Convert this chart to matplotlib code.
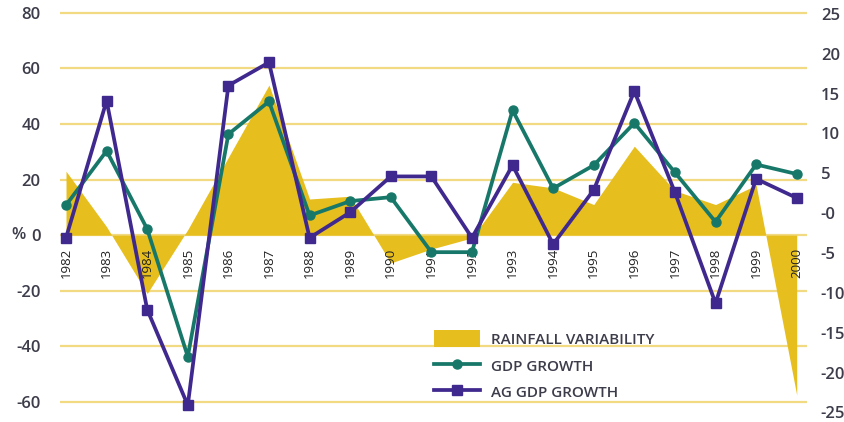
import numpy as np
import matplotlib.pyplot as plt

years = list(range(1982, 2001))
rainfall = [23, 3, -21, 2, 28, 54, 13, 14, -10, -5, -1, 19, 17, 11, 32, 16, 11, 18, -57.5]
gdp_growth = [1.0, 7.8, -2.0, -18.0, 9.9, 14.0, -0.3, 1.5, 2.0, -4.9, -4.9, 12.9, 3.1, 6.0,
              11.3, 5.1, -1.1, 6.1, 4.9]
ag_gdp_growth = [-3.1, 14.1, -12.1, -24.1, 16.0, 18.9, -3.1, 0.1, 4.6, 4.6, -3.1, 6.0, -3.9,
                 2.9, 15.3, 2.6, -11.3, 4.3, 1.9]
left_ticks = [-60, -40, -20, 0, 20, 40, 60, 80]
right_ticks = [-25, -20, -15, -10, -5, 0, 5, 10, 15, 20, 25]
right_labels = ['-25', '-20', '-15', '-10', '-5', '-0', '5', '10', '15', '20', '25']

GOLD = '#E6BE1E'
GRID = '#F2DA82'
TEAL = '#17786A'
PURPLE = '#40298E'
TEXT = '#3C3C4A'

plt.rcParams['font.family'] = ['Open Sans', 'DejaVu Sans']

fig = plt.figure(figsize=(8.44, 4.22), dpi=100)
ax = fig.add_axes([0.071, 0.018, 0.885, 0.955])
ax2 = ax.twinx()

# rainfall on the left (%) axis
ax.fill_between(years, rainfall, 0, color=GOLD, linewidth=0, zorder=2,
                label='RAINFALL VARIABILITY')
ax.set_ylim(-64.5, 80.5)
ax.set_xlim(1981.85, 2000.25)
ax.set_yticks(left_ticks)
ax.set_yticklabels([str(t) for t in left_ticks])
ax.yaxis.grid(True, color=GRID, linewidth=1.6, zorder=0)
ax.set_axisbelow(True)
ax.set_xticks([])
ax.tick_params(axis='y', length=0, pad=14, labelsize=12, labelcolor=TEXT)
for lbl in ax.get_yticklabels():
    lbl.set_fontweight('semibold')
for s in ax.spines.values():
    s.set_visible(False)
ax.text(-0.055, 0, '%', transform=ax.get_yaxis_transform(), ha='center', va='center',
        fontsize=12, fontweight='semibold', color=TEXT)

# year labels under the zero line
for yr in years:
    ax.annotate(str(yr), (yr, 0), xytext=(0, -9), textcoords='offset points',
                rotation=90, ha='center', va='top', fontsize=9.5, color='#222222', zorder=3)

# growth lines on the right axis
ax2.plot(years, gdp_growth, color=TEAL, linewidth=2.7, marker='o', markersize=6.5,
         zorder=5, label='GDP GROWTH')
ax2.plot(years, ag_gdp_growth, color=PURPLE, linewidth=2.7, marker='s', markersize=7.5,
         zorder=6, label='AG GDP GROWTH')
ax2.set_ylim(-25.25, 25.3)
ax2.set_yticks(right_ticks)
ax2.set_yticklabels(right_labels)
ax2.tick_params(axis='y', length=0, pad=10, labelsize=12, labelcolor=TEXT)
for lbl in ax2.get_yticklabels():
    lbl.set_fontweight('semibold')
for s in ax2.spines.values():
    s.set_visible(False)

ax.set_zorder(1)
ax2.set_zorder(2)
ax2.patch.set_visible(False)

h1, l1 = ax.get_legend_handles_labels()
h2, l2 = ax2.get_legend_handles_labels()
leg = ax2.legend(h1 + h2, l1 + l2, loc='upper left', bbox_to_anchor=(0.493, 0.225),
                 frameon=False, fontsize=11, handlelength=3.0, handleheight=1.4,
                 labelspacing=0.6, handletextpad=0.7, borderaxespad=0)
for t in leg.get_texts():
    t.set_color(TEXT)
    t.set_fontweight('semibold')

fig.savefig('out.png', dpi=100)
